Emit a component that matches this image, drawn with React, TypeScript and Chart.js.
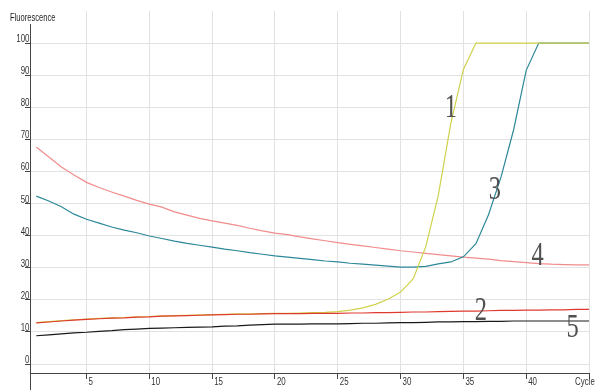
import React, { useEffect, useRef } from 'react';
import { Chart, registerables } from 'chart.js';

Chart.register(...registerables);

// ---- data ----
const cycles = [1, 2, 3, 4, 5, 6, 7, 8, 9, 10, 11, 12, 13, 14, 15, 16, 17, 18, 19, 20, 21, 22, 23, 24, 25, 26, 27, 28, 29, 30, 31, 32, 33, 34, 35, 36, 37, 38, 39, 40, 41, 42, 43, 44, 45];

const curve1 = [12.9, 13.2, 13.5, 13.8, 14.0, 14.2, 14.4, 14.5, 14.7, 14.8, 15.0, 15.1, 15.2, 15.3, 15.4, 15.5, 15.6, 15.6, 15.7, 15.8, 15.8, 15.9, 16.0, 16.1, 16.3, 16.8, 17.5, 18.6, 20.2, 22.4, 26.5, 36.5, 52.5, 75.0, 91.8, 100, 100, 100, 100, 100, 100, 100, 100, 100, 100];

const curve2 = [12.8, 13.1, 13.4, 13.7, 13.9, 14.1, 14.3, 14.4, 14.6, 14.7, 14.9, 15.0, 15.1, 15.2, 15.3, 15.4, 15.5, 15.5, 15.6, 15.7, 15.7, 15.7, 15.8, 15.8, 15.8, 15.9, 15.9, 16.0, 16.0, 16.1, 16.2, 16.2, 16.3, 16.4, 16.5, 16.5, 16.6, 16.7, 16.7, 16.8, 16.8, 16.9, 16.9, 17.0, 17.0];

const curve3 = [52.3, 50.8, 49.0, 46.7, 45.1, 43.9, 42.7, 41.7, 40.9, 39.9, 39.1, 38.3, 37.6, 37.0, 36.4, 35.8, 35.3, 34.7, 34.2, 33.7, 33.3, 32.9, 32.5, 32.1, 31.8, 31.4, 31.1, 30.8, 30.5, 30.2, 30.2, 30.4, 31.2, 31.8, 33.4, 37.5, 46.5, 58.3, 73.0, 91.5, 100, 100, 100, 100, 100];

const curve4 = [67.6, 64.5, 61.4, 58.9, 56.6, 55.0, 53.6, 52.3, 51.0, 49.8, 48.9, 47.4, 46.4, 45.4, 44.6, 43.9, 43.2, 42.3, 41.5, 40.8, 40.3, 39.6, 39.0, 38.4, 37.8, 37.3, 36.8, 36.3, 35.8, 35.3, 34.9, 34.5, 34.1, 33.7, 33.3, 33.0, 32.7, 32.2, 31.9, 31.6, 31.3, 31.1, 31.0, 30.9, 30.9];

const curve5 = [8.8, 9.1, 9.4, 9.7, 9.9, 10.2, 10.4, 10.7, 10.9, 11.1, 11.2, 11.3, 11.4, 11.5, 11.6, 11.8, 11.9, 12.1, 12.3, 12.4, 12.4, 12.4, 12.5, 12.5, 12.5, 12.6, 12.7, 12.7, 12.8, 12.9, 12.9, 13.0, 13.1, 13.1, 13.2, 13.2, 13.3, 13.3, 13.4, 13.4, 13.4, 13.4, 13.4, 13.4, 13.4];

const yTickValues = [0, 10, 20, 30, 40, 50, 60, 70, 80, 90, 100];
const xTickValues = [5, 10, 15, 20, 25, 30, 35, 40, 45];
const xLastLabel = 'Cycle';
const yTitle = 'Fluorescence';

const curveLabels = ['1', '2', '3', '4', '5'];
const labelCycles = [34.0, 36.4, 37.5, 40.9, 43.7];
const labelValues = [80.4, 17.4, 54.9, 34.3, 12.1];

const FONT = "'Liberation Sans', Arial, sans-serif";
const AXIS = '#444444';
const SQUEEZE = 0.72;

const toPoints = (vals: number[]) => cycles.map((c, i) => ({ x: c, y: vals[i] }));

function squeezedText(ctx: any, text: string, x: number, y: number, align: string) {
  ctx.save();
  ctx.translate(x, y);
  ctx.scale(SQUEEZE, 1);
  ctx.textAlign = align;
  ctx.fillText(text, 0, 0);
  ctx.restore();
}

const decorPlugin = {
  id: 'decor',
  afterDraw(chart: any) {
    const { ctx, chartArea, scales } = chart;
    const xs = scales.x;
    const ys = scales.y;
    ctx.save();
    // y axis line
    ctx.strokeStyle = AXIS;
    ctx.lineWidth = 1;
    ctx.beginPath();
    ctx.moveTo(chartArea.left + 0.5, chartArea.top + 13);
    ctx.lineTo(chartArea.left + 0.5, chart.height);
    ctx.stroke();
    // tick labels
    ctx.fillStyle = '#333';
    ctx.font = `11px ${FONT}`;
    ctx.textBaseline = 'alphabetic';
    yTickValues.forEach((v) => {
      squeezedText(ctx, String(v), chartArea.left - 0.5, ys.getPixelForValue(v) - 1, 'right');
    });
    xTickValues.forEach((v, i) => {
      const last = i === xTickValues.length - 1;
      if (last) {
        squeezedText(ctx, xLastLabel, xs.getPixelForValue(v) - 14, chartArea.bottom + 12, 'left');
      } else {
        squeezedText(ctx, String(v), xs.getPixelForValue(v) + 2, chartArea.bottom + 12, 'left');
      }
    });
    // y title
    ctx.fillStyle = '#222';
    ctx.font = `10.5px ${FONT}`;
    squeezedText(ctx, yTitle, 10, 21, 'left');
    // curve labels
    ctx.fillStyle = '#505050';
    ctx.font = "34px 'Liberation Serif', 'DejaVu Serif', serif";
    ctx.textBaseline = 'alphabetic';
    curveLabels.forEach((t, i) => {
      const px = xs.getPixelForValue(labelCycles[i]);
      const py = ys.getPixelForValue(labelValues[i]);
      ctx.save();
      ctx.translate(px, py + 11.5);
      ctx.scale(0.72, 1);
      ctx.textAlign = 'center';
      ctx.fillText(t, 0, 0);
      ctx.restore();
    });
    ctx.restore();
  },
};

export default function App() {
  const ref = useRef<HTMLCanvasElement | null>(null);
  useEffect(() => {
    if (!ref.current) return;
    const lineDs = (label: string, vals: number[], color: string) => ({
      label,
      data: toPoints(vals),
      borderColor: color,
      backgroundColor: color,
      borderWidth: 1.2,
      pointRadius: 0,
      tension: 0,
      fill: false,
    });
    const chart = new Chart(ref.current, {
      type: 'line',
      data: {
        datasets: [
          lineDs('2', curve2, '#e03a30'),
          lineDs('1', curve1, '#cfd24a'),
          lineDs('3', curve3, '#2c8898'),
          lineDs('4', curve4, '#f08c8c'),
          lineDs('5', curve5, '#1a1a1a'),
        ],
      },
      options: {
        animation: false,
        responsive: false,
        maintainAspectRatio: false,
        layout: { padding: { top: 11, right: 6, left: 0, bottom: 0 } },
        plugins: { legend: { display: false }, tooltip: { enabled: false } },
        scales: {
          x: {
            type: 'linear',
            min: 0.5,
            max: 45,
            afterBuildTicks: (s: any) => {
              s.ticks = xTickValues.map((v) => ({ value: v }));
            },
            afterFit: (s: any) => {
              s.height = 17;
            },
            grid: { color: '#e2e2e2', lineWidth: 1, tickLength: 6, tickColor: AXIS, drawTicks: true },
            border: { display: true, color: AXIS, width: 1 },
            ticks: {
              maxRotation: 0,
              autoSkip: false,
              color: 'rgba(0,0,0,0)',
              font: { family: FONT, size: 10 },
              callback: () => '',
            },
          },
          y: {
            type: 'linear',
            min: -2.8,
            max: 110,
            afterBuildTicks: (s: any) => {
              s.ticks = yTickValues.map((v) => ({ value: v }));
            },
            afterFit: (s: any) => {
              s.width = 30;
            },
            grid: { color: '#e2e2e2', lineWidth: 1, tickLength: 5, tickColor: AXIS, drawTicks: true },
            border: { display: false },
            ticks: {
              color: 'rgba(0,0,0,0)',
              font: { family: FONT, size: 10 },
              callback: () => '',
            },
          },
        },
      } as any,
      plugins: [decorPlugin],
    });
    return () => chart.destroy();
  }, []);
  return (
    <div style={{ position: 'fixed', left: 0, top: 0, width: 595, height: 390, background: '#fff' }}>
      <canvas ref={ref} width={595} height={390} style={{ display: 'block' }} />
    </div>
  );
}
